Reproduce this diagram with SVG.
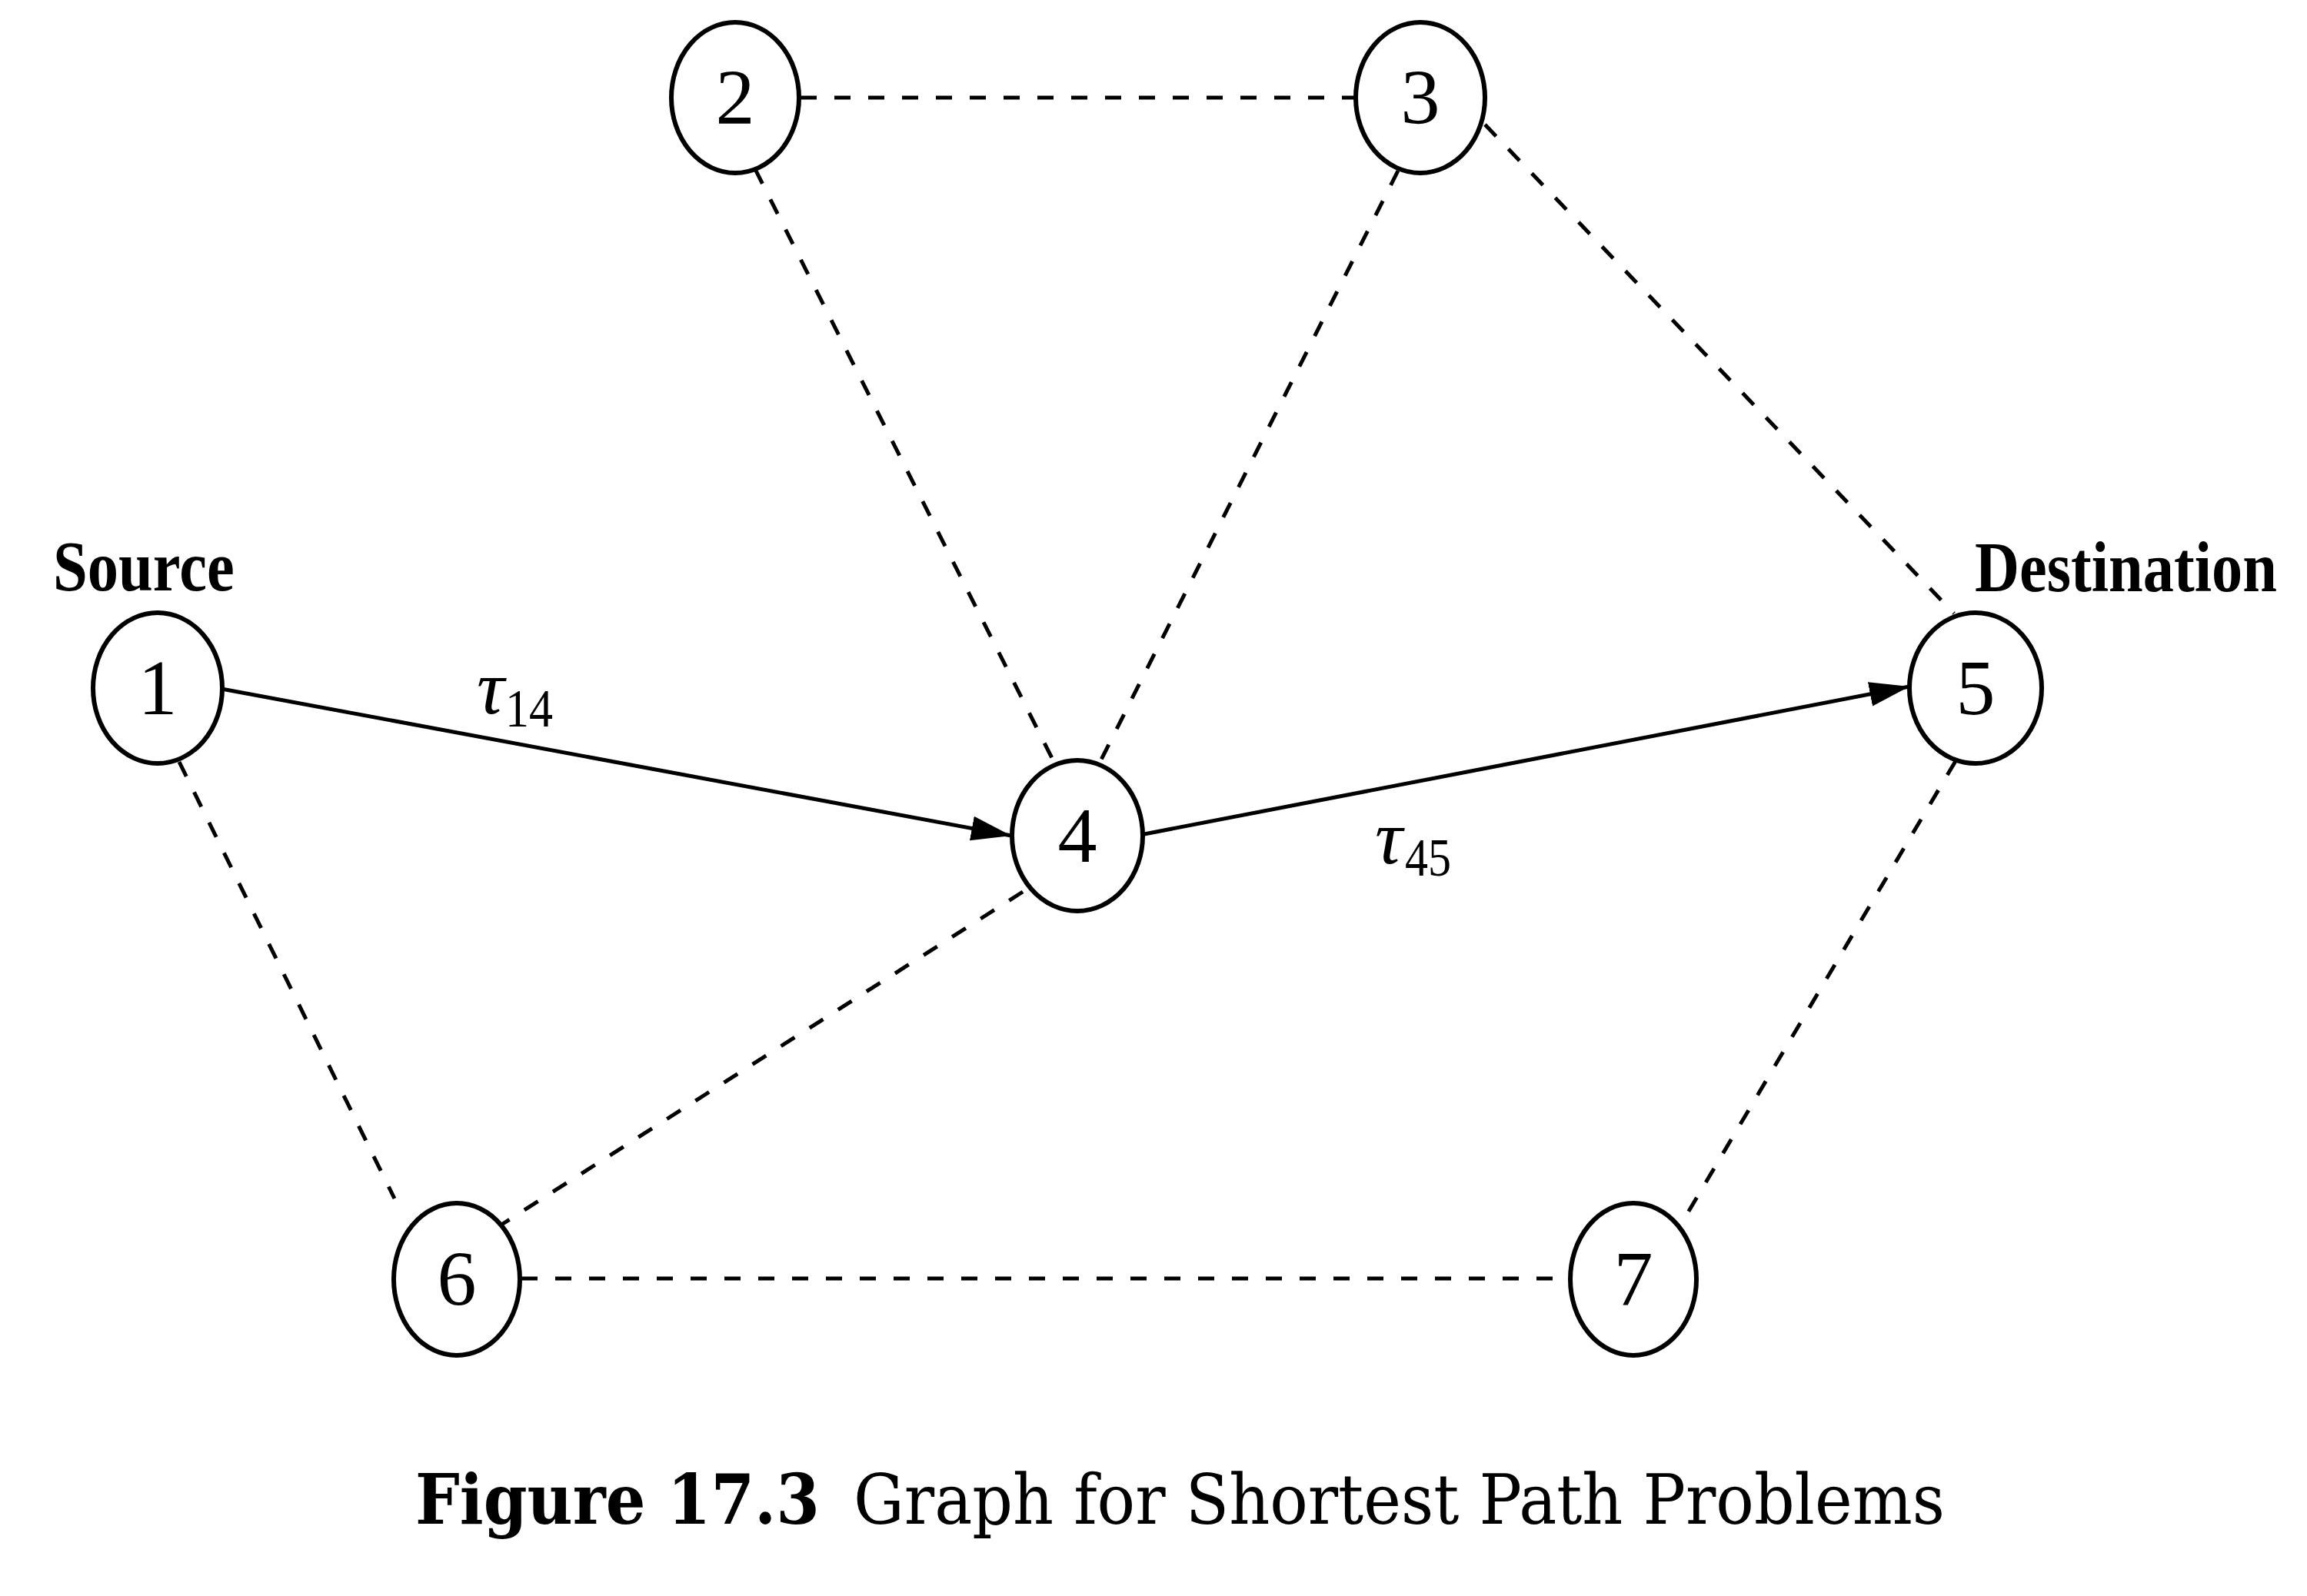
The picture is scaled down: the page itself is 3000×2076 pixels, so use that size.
<svg xmlns="http://www.w3.org/2000/svg" width="3000" height="2076" viewBox="0 0 3000 2076">
<style>
.node ellipse{fill:#fff;stroke:#000;stroke-width:6}
.node text{font-family:"Liberation Serif",serif;font-size:102px;text-anchor:middle;fill:#000}
.dash{stroke:#000;stroke-width:5;stroke-dasharray:21 23;fill:none}
.solid{stroke:#000;stroke-width:5;fill:none;marker-end:url(#arr)}
.lbl{font-family:"Liberation Serif",serif;font-weight:bold;font-size:94px;fill:#000}
.tau{font-family:"Liberation Serif",serif;font-style:italic;font-size:100px;fill:#000}
.sub{font-family:"Liberation Serif",serif;font-size:70px;fill:#000}
.cap{font-family:"DejaVu Serif","Liberation Serif",serif;font-size:90px;fill:#000}
</style>
<defs>
<marker id="arr" markerUnits="userSpaceOnUse" markerWidth="56" markerHeight="34" refX="52" refY="16" orient="auto">
<path d="M0,0 L52,16 L0,32 z" fill="#000"/>
</marker>
</defs>
<rect width="3000" height="2076" fill="#fff"/>
<g id="connectors">
<line class="dash" x1="1041" y1="127" x2="1763" y2="127"/>
<line class="dash" x1="982" y1="220" x2="1371" y2="992"/>
<line class="dash" x1="1818" y1="222" x2="1430" y2="992"/>
<line class="dash" x1="1931" y1="162" x2="2541" y2="798"/>
<line class="dash" x1="233" y1="991" x2="513" y2="1559"/>
<line class="dash" x1="1330" y1="1160" x2="652" y2="1593"/>
<line class="dash" x1="2543" y1="990" x2="2185" y2="1594"/>
<line class="dash" x1="678" y1="1663" x2="2042" y2="1663"/>
<line class="solid" x1="288" y1="896" x2="1315" y2="1087"/>
<line class="solid" x1="1488" y1="1085" x2="2483" y2="893"/>
</g>
<g id="node1" class="node"><ellipse cx="205" cy="895" rx="84" ry="98"/><text x="205" y="929">1</text></g>
<g id="node2" class="node"><ellipse cx="956" cy="127" rx="83" ry="98"/><text x="956" y="161">2</text></g>
<g id="node3" class="node"><ellipse cx="1847" cy="127" rx="84" ry="98"/><text x="1847" y="161">3</text></g>
<g id="node4" class="node"><ellipse cx="1401" cy="1087" rx="85" ry="98"/><text x="1401" y="1121">4</text></g>
<g id="node5" class="node"><ellipse cx="2569" cy="895" rx="86" ry="98"/><text x="2569" y="929">5</text></g>
<g id="node6" class="node"><ellipse cx="594" cy="1664" rx="82" ry="99"/><text x="594" y="1698">6</text></g>
<g id="node7" class="node"><ellipse cx="2124" cy="1664" rx="82" ry="99"/><text x="2124" y="1698">7</text></g>
<g id="labels">
<text class="lbl" transform="translate(69,768) scale(0.857,1)" x="0" y="0">Source</text>
<text class="lbl" transform="translate(2568,769) scale(0.855,1)" x="0" y="0">Destination</text>
<text class="tau" x="620" y="928">τ</text><text class="sub" x="657" y="945" textLength="62" lengthAdjust="spacingAndGlyphs">14</text>
<text class="tau" x="1788" y="1123">τ</text><text class="sub" x="1827" y="1139" textLength="60" lengthAdjust="spacingAndGlyphs">45</text>
<text class="cap" x="540" y="1982" font-weight="bold" textLength="526" lengthAdjust="spacingAndGlyphs">Figure 17.3</text>
<text class="cap" x="1110" y="1982" textLength="1419" lengthAdjust="spacingAndGlyphs">Graph for Shortest Path Problems</text>
</g>
</svg>
